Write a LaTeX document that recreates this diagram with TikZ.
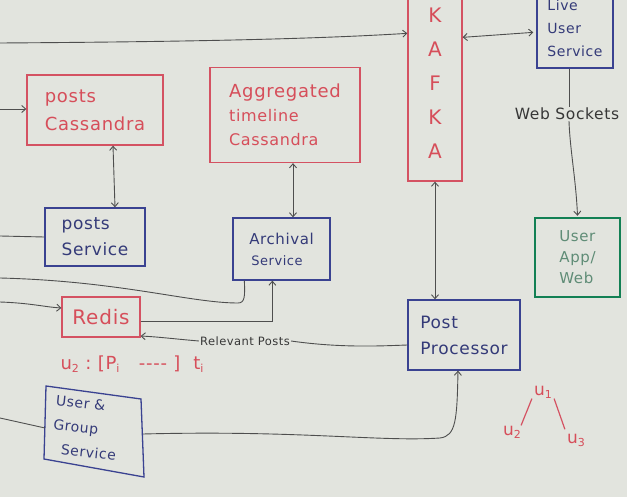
\documentclass[tikz,border=0pt]{standalone}
\usepackage{fontspec}
\setmainfont{DejaVu Sans}[LetterSpace=4]
\usetikzlibrary{arrows.meta,calc}
\definecolor{board}{RGB}{226,228,222}
\definecolor{rline}{RGB}{212,82,98}
\definecolor{rtext}{RGB}{214,78,90}
\definecolor{bline}{RGB}{58,66,145}
\definecolor{btext}{RGB}{52,58,120}
\definecolor{gline}{RGB}{18,128,84}
\definecolor{gtext}{RGB}{95,140,118}
\definecolor{lgray}{RGB}{78,78,78}
\definecolor{tgray}{RGB}{55,55,55}
\newcommand{\fs}[2]{\fontsize{#1}{#2}\selectfont}
\newcommand{\sbs}[1]{\raisebox{-0.35ex}{\fs{11}{12}#1}}
\begin{document}
\begin{tikzpicture}[x=1pt,y=-1pt,
  box/.style={rectangle, inner sep=0pt, align=left, line width=1.3pt},
  redbox/.style={box, draw=rline, text=rtext},
  bluebox/.style={box, draw=bline, text=btext},
  greenbox/.style={box, draw=gline, text=gtext, line width=2.4pt},
  conn/.style={draw=lgray, line width=0.9pt},
  arr/.style={conn, -{Straight Barb[length=4pt,width=7pt]}},
  darr/.style={conn, {Straight Barb[length=4pt,width=7pt]}-{Straight Barb[length=4pt,width=7pt]}},
  lbl/.style={text=tgray, inner sep=1pt},
  rnote/.style={text=rtext, inner sep=0pt}]
\fill[board] (0,0) rectangle (627,497);
\useasboundingbox (0,0) rectangle (627,497);
\clip (0,0) rectangle (627,497);

% boxes
\node[redbox, minimum width=136, minimum height=70, font=\fs{18}{28}] (pc) at (95,110)
  {posts\\Cassandra};
\node[redbox, minimum width=150, minimum height=95, font=\fs{16}{24}] (agg) at (285,115)
  {\fs{18}{24}Aggregated\\timeline\\Cassandra};
\node[redbox, minimum width=54, minimum height=196, align=center, font=\fs{20}{34}] (kafka) at (435,83)
  {K\\A\\F\\K\\A};
\node[bluebox, minimum width=76, minimum height=80, font=\fs{14}{23}] (live) at (575,28)
  {Live\\User\\Service};
\node[greenbox, minimum width=85, minimum height=79, font=\fs{15}{21}] (app) at (577.5,257.5)
  {User\\App/\\Web};
\node[bluebox, minimum width=112, minimum height=70, font=\fs{17}{26}] (pp) at (464,335)
  {Post\\Processor};
\node[bluebox, minimum width=100, minimum height=58, font=\fs{17}{26}] (ps) at (95,237)
  {posts\\Service};
\node[bluebox, minimum width=97, minimum height=62, font=\fs{15}{21}] (arch) at (281.5,249)
  {Archival\\\fs{13}{21}\,Service};
\node[redbox, minimum width=78, minimum height=40, font=\fs{20}{24}] (redis) at (101,317)
  {Redis};
\node[text=btext, align=left, inner sep=0pt, rotate=-6, font=\fs{14}{24}] (ug) at (86,428)
  {User \&\\Group\\\ \ Service};
\draw[bline, line width=1.3pt] (46,386) -- (141,399) -- (144,477) -- (44,459) -- cycle;
\coordinate (ugE) at (143,434);
\coordinate (ugW) at (45,428);

% labels
\node[lbl, font=\fs{15.5}{18}] (ws) at (567,114) {Web Sockets};
\node[lbl, font=\fs{11.5}{14}] (rp) at (245,341) {Relevant Posts};
\node[rnote, font=\fs{18}{20}] (note) at (132,364) {u\sbs{2}\ :\ [P\sbs{i}\ \ \ {-}{-}{-}{-}\ ]\ \ t\sbs{i}};
\node[rnote, font=\fs{17}{18}] (u1) at (543,392) {u\sbs{1}};
\node[rnote, font=\fs{17}{18}] (u2) at (512,432) {u\sbs{2}};
\node[rnote, font=\fs{17}{18}] (u3) at (576,440) {u\sbs{3}};

% free ends on the left
\coordinate (inTop) at (0,43);
\coordinate (inPC) at (0,109);
\coordinate (inPS) at (0,236);
\coordinate (inArch) at (0,278);
\coordinate (inRedis) at (0,302);
\coordinate (inUG) at (0,418);

% connectors
\draw[arr] (inTop) .. controls (150,42) and (300,40) .. ($(kafka.north west)+(0,49)$);
\draw[darr] ($(kafka.north east)+(0,53)$) -- ($(live.north west)+(-3,45)$);
\draw[conn] ($(live.south)+(-6,0)$) -- (ws.north -| {$(live.south)+(-6,0)$});
\draw[arr] ($(ws.south)+(2,0)$) .. controls (570,150) and (576,180) .. ($(app.north)+(0,-1)$);
\draw[darr] (kafka.south) -- (kafka.south |- pp.north);
\draw[arr] (inPC) -- (pc.west |- inPC);
\draw[darr] ($(pc.south)+(18,0)$) -- ($(ps.north)+(20,0)$);
\draw[darr] ($(agg.south)+(8,0)$) -- ($(arch.north)+(11.5,0)$);
\draw[conn] (inPS) -- (ps.west);
\draw[conn] (inArch) .. controls (120,281) and (190,303) .. (238,303)
  .. controls (245,303) and (245,296) .. ($(arch.south west)+(12,0)$);
\draw[arr] (inRedis) .. controls (30,303) and (45,307) .. ($(redis.west)+(0,-9)$);
\draw[arr] ($(redis.east)+(0,4)$) -| ($(arch.south west)+(40,0)$);
\draw[conn] ($(pp.west)+(0,10)$) .. controls (380,346) and (340,348) .. (rp.east);
\draw[arr] (rp.west) .. controls (175,339) and (160,337) .. ($(redis.east)+(0,19)$);
\draw[conn] (inUG) -- (ugW);
\draw[arr] (ugE) .. controls (300,430) and (380,442) .. (440,438)
  .. controls (456,436) and (457,420) .. ($(pp.south)+(-6,0)$);
\draw[rline, line width=1.2pt] (u1.south west) ++(-2,0) -- (u2.north east);
\draw[rline, line width=1.2pt] (u1.south east) ++(2,0) -- ($(u3.north west)+(-2,-4)$);
\end{tikzpicture}
\end{document}
